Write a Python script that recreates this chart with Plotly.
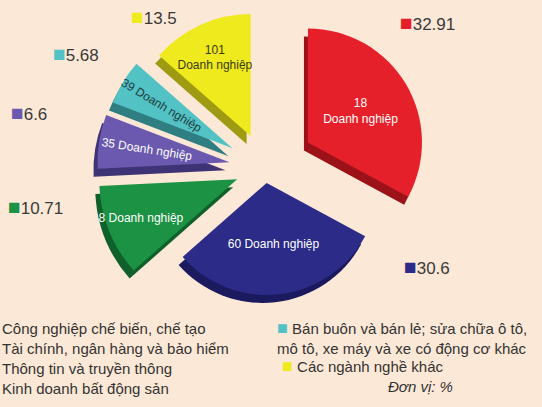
import plotly.graph_objects as go

# ---------------- data ----------------
categories = [
    "Công nghiệp chế biến, chế tạo",
    "Tài chính, ngân hàng và bảo hiểm",
    "Thông tin và truyền thông",
    "Kinh doanh bất động sản",
    "Bán buôn và bán lẻ; sửa chữa ô tô,<br>mô tô, xe máy và xe có động cơ khác",
    "Các ngành nghề khác",
]
shares = [32.91, 30.6, 10.71, 6.6, 5.68, 13.5]          # % (Đơn vị: %)
firms = [18, 60, 8, 35, 39, 101]                          # số doanh nghiệp
unit_note = "Đơn vị: %"

# ---------------- style ----------------
W, H = 542, 407
BG = "#FCE8D7"
FONT = "Liberation Sans, Arial, sans-serif"
top_colors = ["#E5202A", "#2C2B88", "#1C9244", "#6A59AE", "#52C2C5", "#EFEA1E"]
side_colors = ["#9B1318", "#1B1A5E", "#10602B", "#3E3374", "#2F7F82", "#9E9A12"]
text_colors = ["white", "white", "white", "white", "#1F3B3C", "#3A3A1A"]
label_breaks = ["<br>", " ", " ", " ", " ", "<br>"]
orient = ["horizontal", "horizontal", "horizontal", "radial", "radial", "horizontal"]
radius_px = [114, 112, 138, 132, 128, 122]   # per-slice radius
pull_px = [50, 15, 30, 36, 38, 35]           # explode distance
CX, CY = 265, 168                            # common pie centre (px)
ROTATION = 0
DEPTH_DX, DEPTH_DY = -4, 8                   # 3-D extrusion offset

n = len(shares)
fig = go.Figure()


def add_slice(i, dx, dy, color, with_text):
    r, d = radius_px[i], pull_px[i]
    R = r + d
    cx, cy = CX + dx, CY + dy
    dom_x = [max(0, (cx - R) / W), min(1, (cx + R) / W)]
    dom_y = [max(0, 1 - (cy + R) / H), min(1, 1 - (cy - R) / H)]
    colors = [color if j == i else "rgba(0,0,0,0)" for j in range(n)]
    pulls = [d / r if j == i else 0 for j in range(n)]
    texts = [
        (f"{firms[j]}{label_breaks[j]}Doanh nghiệp" if (j == i and with_text) else "")
        for j in range(n)
    ]
    fig.add_trace(go.Pie(
        values=shares,
        labels=[c.replace("<br>", " ") for c in categories],
        sort=False,
        direction="clockwise",
        rotation=ROTATION,
        pull=pulls,
        marker=dict(colors=colors, line=dict(width=0)),
        text=texts,
        textinfo="text",
        textposition="inside",
        insidetextorientation=orient[i],
        textfont=dict(family=FONT, size=12, color=text_colors[i]),
        domain=dict(x=dom_x, y=dom_y),
        hoverinfo="skip",
        showlegend=False,
    ))


# extrusion (sides) first, then faces
for i in range(n):
    add_slice(i, DEPTH_DX, DEPTH_DY, side_colors[i], False)
for i in range(n):
    add_slice(i, 0, 0, top_colors[i], True)

# value labels beside slices (px anchor positions)
value_pos = [(398, 22), (402, 266), (6, 206), (9, 112), (51, 54), (129, 17)]
annotations = []
for i in range(n):
    x, y = value_pos[i]
    annotations.append(dict(
        x=x / W, y=1 - y / H, xref="paper", yref="paper",
        xanchor="left", yanchor="middle", showarrow=False,
        text=f'<span style="color:{top_colors[i]};font-size:21px">■</span>{shares[i]:g}',
        font=dict(family=FONT, size=17, color="#3A3A3A"),
    ))

# bottom legend: left column (markers fall outside the picture, as in the source)
legend_pos = [(0, 328), (0, 348), (0, 368), (0, 388), (275, 337), (280, 366)]
for i in range(n):
    x, y = legend_pos[i]
    marker = "" if i < 4 else f'<span style="color:{top_colors[i]};font-size:18px">■</span> '
    annotations.append(dict(
        x=x / W, y=1 - y / H, xref="paper", yref="paper",
        xanchor="left", yanchor="middle", align="left", showarrow=False,
        text=f"{marker}{categories[i]}",
        font=dict(family=FONT, size=15, color="#333333"),
    ))
annotations.append(dict(
    x=420 / W, y=1 - 386 / H, xref="paper", yref="paper",
    xanchor="center", yanchor="middle", showarrow=False,
    text=f"<i>{unit_note}</i>",
    font=dict(family=FONT, size=15, color="#333333"),
))

fig.update_layout(
    width=W, height=H,
    margin=dict(l=0, r=0, t=0, b=0),
    paper_bgcolor=BG, plot_bgcolor=BG,
    annotations=annotations,
    font=dict(family=FONT),
    uniformtext=dict(minsize=12, mode="show"),
)

fig.write_html("out.html")
